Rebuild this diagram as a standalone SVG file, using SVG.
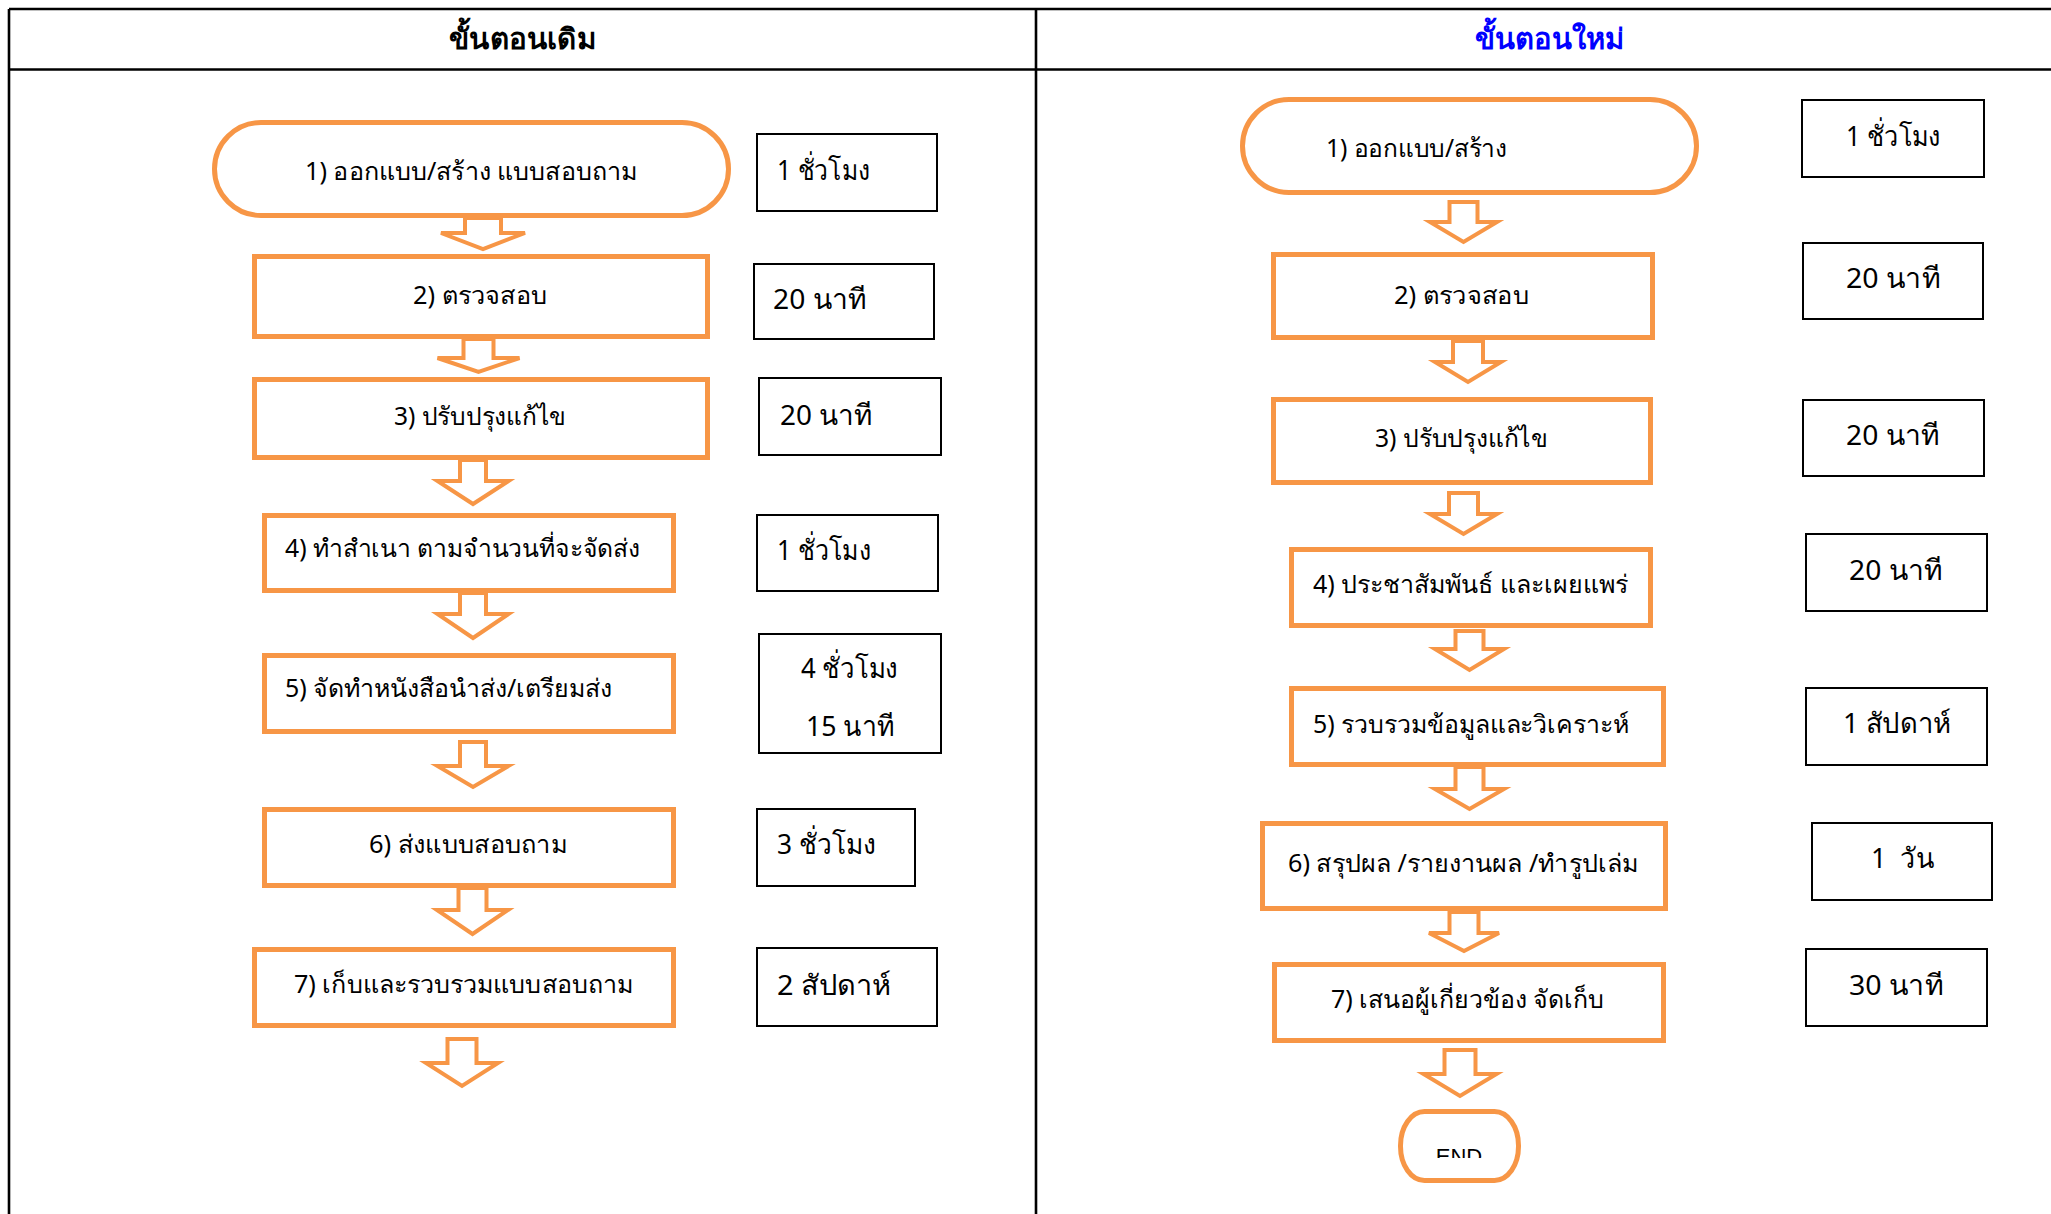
<svg xmlns="http://www.w3.org/2000/svg" width="2051" height="1214" viewBox="0 0 2051 1214">
<style>
.grid{stroke:#000;stroke-width:2.6;fill:none}
.node{fill:#fff;stroke:#F79646;stroke-width:5}
.time{fill:#fff;stroke:#000;stroke-width:2}
.arrow{fill:#fff;stroke:#F79646;stroke-width:4;stroke-linejoin:miter}
.t{font-family:'Noto Sans','DejaVu Sans',sans-serif;font-size:25px;fill:#000}
.tm{font-family:'Noto Sans','DejaVu Sans',sans-serif;font-size:28px;fill:#000}
.h{font-family:'Noto Sans','DejaVu Sans',sans-serif;font-size:29px;font-weight:bold}
.end{font-family:'Liberation Sans',sans-serif;font-size:22px;fill:#000}
</style>
<defs>
<clipPath id="endclip"><rect x="1400" y="1111" width="120" height="47"/></clipPath>
</defs>
<g id="table">
<line class="grid" x1="9" y1="9" x2="2051" y2="9"/>
<line class="grid" x1="9" y1="69.5" x2="2051" y2="69.5"/>
<line class="grid" x1="9" y1="9" x2="9" y2="1214"/>
<line class="grid" x1="1036" y1="9" x2="1036" y2="1214"/>
<text class="h" x="449" y="49" textLength="147" lengthAdjust="spacingAndGlyphs" fill="#000">ขั้นตอนเดิม</text>
<text class="h" x="1475" y="49" textLength="149" lengthAdjust="spacingAndGlyphs" fill="#0000FF">ขั้นตอนใหม่</text>
</g>
<g id="connectors">
<path class="arrow" d="M465 218H501V233H525L483 249L441 233H465Z"/>
<path class="arrow" d="M463.5 339H493.5V358H519.5L478.5 372L437.5 358H463.5Z"/>
<path class="arrow" d="M460 460H486V481H508.5L473 504L437.5 481H460Z"/>
<path class="arrow" d="M460 593H486V614H508.5L473 638L437.5 614H460Z"/>
<path class="arrow" d="M460 742H486V766H508.5L473 787L437.5 766H460Z"/>
<path class="arrow" d="M458.5 888H486.5V910H508L472.5 934L437 910H458.5Z"/>
<path class="arrow" d="M447.5 1039H476.5V1063H498L462 1086L426 1063H447.5Z"/>
<path class="arrow" d="M1449.5 202H1477.5V222H1497L1463.5 242L1430 222H1449.5Z"/>
<path class="arrow" d="M1453 341H1483V362H1501L1468 382L1435 362H1453Z"/>
<path class="arrow" d="M1449 493H1478V514H1497L1463.5 534L1430 514H1449Z"/>
<path class="arrow" d="M1455.5 631H1483.5V649H1504L1469.5 670L1435 649H1455.5Z"/>
<path class="arrow" d="M1455.5 767H1483.5V789H1504L1469.5 809L1435 789H1455.5Z"/>
<path class="arrow" d="M1449.5 912H1478.5V933H1499L1464 951L1429 933H1449.5Z"/>
<path class="arrow" d="M1444.5 1050H1475.5V1074H1496.5L1460 1096L1423.5 1074H1444.5Z"/>
</g>
<g id="old-1"><rect class="node" x="214.5" y="122.5" width="514" height="93" rx="46.5"/><text class="t" x="305" y="180" textLength="332" lengthAdjust="spacingAndGlyphs">1) ออกแบบ/สร้าง แบบสอบถาม</text></g>
<g id="old-2"><rect class="node" x="254.5" y="256.5" width="453" height="80"/><text class="t" x="413" y="304" textLength="134" lengthAdjust="spacingAndGlyphs">2) ตรวจสอบ</text></g>
<g id="old-3"><rect class="node" x="254.5" y="379.5" width="453" height="78"/><text class="t" x="394" y="425" textLength="172" lengthAdjust="spacingAndGlyphs">3) ปรับปรุงแก้ไข</text></g>
<g id="old-4"><rect class="node" x="264.5" y="515.5" width="409" height="75"/><text class="t" x="285" y="557" textLength="355" lengthAdjust="spacingAndGlyphs">4) ทำสำเนา ตามจำนวนที่จะจัดส่ง</text></g>
<g id="old-5"><rect class="node" x="264.5" y="655.5" width="409" height="76"/><text class="t" x="285" y="697" textLength="327" lengthAdjust="spacingAndGlyphs">5) จัดทำหนังสือนำส่ง/เตรียมส่ง</text></g>
<g id="old-6"><rect class="node" x="264.5" y="809.5" width="409" height="76"/><text class="t" x="369" y="853" textLength="198" lengthAdjust="spacingAndGlyphs">6) ส่งแบบสอบถาม</text></g>
<g id="old-7"><rect class="node" x="254.5" y="949.5" width="419" height="76"/><text class="t" x="294" y="993" textLength="339" lengthAdjust="spacingAndGlyphs">7) เก็บและรวบรวมแบบสอบถาม</text></g>
<g id="old-time-1"><rect class="time" x="757" y="134" width="180" height="77"/><text class="tm" x="777" y="180" textLength="93" lengthAdjust="spacingAndGlyphs">1 ชั่วโมง</text></g>
<g id="old-time-2"><rect class="time" x="754" y="264" width="180" height="75"/><text class="tm" x="773" y="309" textLength="93" lengthAdjust="spacingAndGlyphs">20 นาที</text></g>
<g id="old-time-3"><rect class="time" x="759" y="378" width="182" height="77"/><text class="tm" x="780" y="425" textLength="92" lengthAdjust="spacingAndGlyphs">20 นาที</text></g>
<g id="old-time-4"><rect class="time" x="757" y="515" width="181" height="76"/><text class="tm" x="777" y="560" textLength="94" lengthAdjust="spacingAndGlyphs">1 ชั่วโมง</text></g>
<g id="old-time-5"><rect class="time" x="759" y="634" width="182" height="119"/><text class="tm" x="801" y="678" textLength="97" lengthAdjust="spacingAndGlyphs">4 ชั่วโมง</text><text class="tm" x="806" y="736" textLength="88" lengthAdjust="spacingAndGlyphs">15 นาที</text></g>
<g id="old-time-6"><rect class="time" x="757" y="809" width="158" height="77"/><text class="tm" x="777" y="854" textLength="99" lengthAdjust="spacingAndGlyphs">3 ชั่วโมง</text></g>
<g id="old-time-7"><rect class="time" x="757" y="948" width="180" height="78"/><text class="tm" x="777" y="995" textLength="114" lengthAdjust="spacingAndGlyphs">2 สัปดาห์</text></g>
<g id="new-1"><rect class="node" x="1242.5" y="99.5" width="454" height="93" rx="46.5"/><text class="t" x="1326" y="157" textLength="181" lengthAdjust="spacingAndGlyphs">1) ออกแบบ/สร้าง</text></g>
<g id="new-2"><rect class="node" x="1273.5" y="254.5" width="379" height="83"/><text class="t" x="1394" y="304" textLength="135" lengthAdjust="spacingAndGlyphs">2) ตรวจสอบ</text></g>
<g id="new-3"><rect class="node" x="1273.5" y="399.5" width="377" height="83"/><text class="t" x="1375" y="447" textLength="173" lengthAdjust="spacingAndGlyphs">3) ปรับปรุงแก้ไข</text></g>
<g id="new-4"><rect class="node" x="1291.5" y="549.5" width="359" height="76"/><text class="t" x="1313" y="593" textLength="315" lengthAdjust="spacingAndGlyphs">4) ประชาสัมพันธ์ และเผยแพร่</text></g>
<g id="new-5"><rect class="node" x="1291.5" y="688.5" width="372" height="76"/><text class="t" x="1313" y="733" textLength="316" lengthAdjust="spacingAndGlyphs">5) รวบรวมข้อมูลและวิเคราะห์</text></g>
<g id="new-6"><rect class="node" x="1262.5" y="823.5" width="403" height="85"/><text class="t" x="1288" y="872" textLength="350" lengthAdjust="spacingAndGlyphs">6) สรุปผล /รายงานผล /ทำรูปเล่ม</text></g>
<g id="new-7"><rect class="node" x="1274.5" y="964.5" width="389" height="76"/><text class="t" x="1331" y="1008" textLength="273" lengthAdjust="spacingAndGlyphs">7) เสนอผู้เกี่ยวข้อง จัดเก็บ</text></g>
<g id="new-end"><rect class="node" x="1400.5" y="1111.5" width="118" height="69" rx="24" ry="34"/><text class="end" x="1459" y="1164" text-anchor="middle" clip-path="url(#endclip)">END</text></g>
<g id="new-time-1"><rect class="time" x="1802" y="100" width="182" height="77"/><text class="tm" x="1846" y="146" textLength="95" lengthAdjust="spacingAndGlyphs">1 ชั่วโมง</text></g>
<g id="new-time-2"><rect class="time" x="1803" y="243" width="180" height="76"/><text class="tm" x="1846" y="288" textLength="94" lengthAdjust="spacingAndGlyphs">20 นาที</text></g>
<g id="new-time-3"><rect class="time" x="1803" y="400" width="181" height="76"/><text class="tm" x="1846" y="445" textLength="93" lengthAdjust="spacingAndGlyphs">20 นาที</text></g>
<g id="new-time-4"><rect class="time" x="1806" y="534" width="181" height="77"/><text class="tm" x="1849" y="580" textLength="93" lengthAdjust="spacingAndGlyphs">20 นาที</text></g>
<g id="new-time-5"><rect class="time" x="1806" y="688" width="181" height="77"/><text class="tm" x="1843" y="733" textLength="108" lengthAdjust="spacingAndGlyphs">1 สัปดาห์</text></g>
<g id="new-time-6"><rect class="time" x="1812" y="823" width="180" height="77"/><text class="tm" x="1871" y="868" textLength="63" lengthAdjust="spacingAndGlyphs" xml:space="preserve">1  วัน</text></g>
<g id="new-time-7"><rect class="time" x="1806" y="949" width="181" height="77"/><text class="tm" x="1849" y="995" textLength="94" lengthAdjust="spacingAndGlyphs">30 นาที</text></g>
</svg>
